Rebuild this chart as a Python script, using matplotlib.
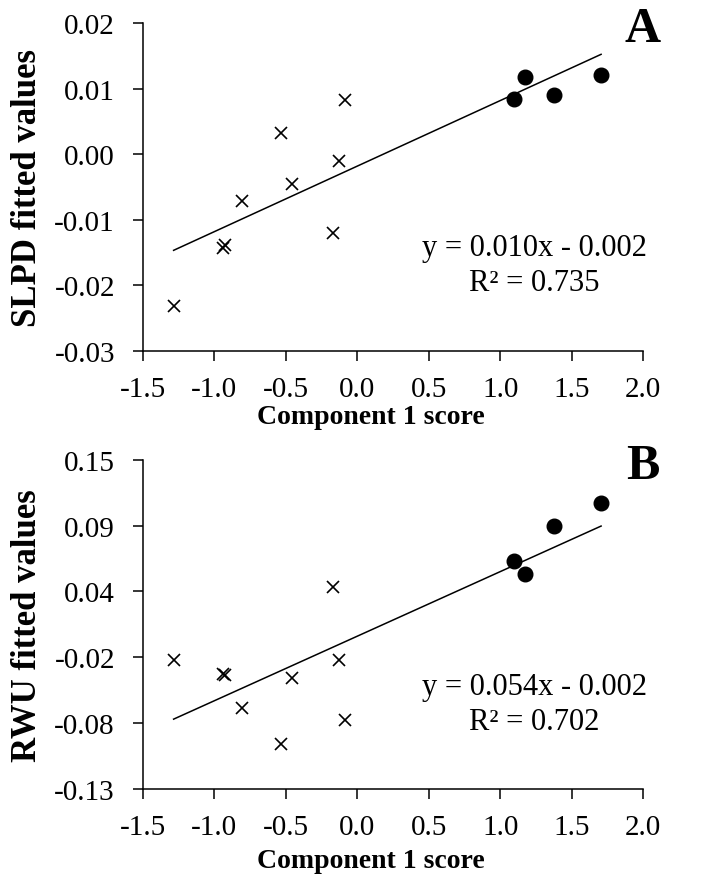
import numpy as np
import matplotlib
matplotlib.use("Agg")
import matplotlib.pyplot as plt

# DADOS
x_cruz = [-1.284, -0.942, -0.926, -0.808, -0.533, -0.454, -0.168, -0.131, -0.089]
x_circ = [1.098, 1.171, 1.373, 1.705]

slpd_cruz = [-0.0232, -0.0144, -0.0139, -0.0071, 0.0032, -0.0046, -0.0121, -0.0011, 0.0083]
slpd_circ = [0.0084, 0.0118, 0.0090, 0.0120]

rwu_cruz = [-0.0222, -0.0340, -0.0346, -0.0625, -0.0923, -0.0374, 0.0385, -0.0219, -0.0722]
rwu_circ = [0.0607, 0.0496, 0.0894, 0.1089]

x_ticks = [-1.5, -1.0, -0.5, 0.0, 0.5, 1.0, 1.5, 2.0]
slpd_ticks = [-0.03, -0.02, -0.01, 0.00, 0.01, 0.02]
rwu_ticks = [-0.13, -0.075, -0.02, 0.035, 0.09, 0.145]
rwu_labels = ["-0.13", "-0.08", "-0.02", "0.04", "0.09", "0.15"]

eq_a = "y = 0.010x - 0.002\nR² = 0.735"
eq_b = "y = 0.054x - 0.002\nR² = 0.702"

plt.rcParams['font.family'] = ['Liberation Serif', 'DejaVu Serif']

fig = plt.figure(figsize=(7.15, 8.78), dpi=100)


# FUNCAO PARA DESENHAR UM PAINEL
def painel(ax, y_cruz, y_circ, yticks, ylabels, ylabel, equacao, letra, letra_y, eq_y, xlab_y):
    ax.plot(x_cruz, y_cruz, linestyle='none', marker='x', color='black',
            markersize=8.5, markeredgewidth=1.2, clip_on=False)
    ax.plot(x_circ, y_circ, linestyle='none', marker='o', color='black',
            markersize=10.5, clip_on=False)

    # linha de tendencia
    xs = np.array(x_cruz + x_circ)
    ys = np.array(y_cruz + y_circ)
    a, b = np.polyfit(xs, ys, 1)
    xl = np.array([xs.min(), xs.max()])
    ax.plot(xl, a * xl + b, color='black', linewidth=1.1)

    ax.set_xlim(-1.5, 2.0)
    ax.set_ylim(yticks[0], yticks[-1])
    ax.set_xticks(x_ticks)
    ax.set_xticklabels([f"{v:.1f}" for v in x_ticks])
    ax.set_yticks(yticks)
    ax.set_yticklabels(ylabels)

    for s in ['top', 'right']:
        ax.spines[s].set_visible(False)
    for s in ['left', 'bottom']:
        ax.spines[s].set_linewidth(1.1)

    ax.tick_params(axis='both', direction='out', length=7, width=1.1, labelsize=21)
    ax.tick_params(axis='y', pad=13)
    ax.tick_params(axis='x', pad=11)

    ax.set_xlabel("Component 1 score", fontsize=20, fontweight='bold')
    ax.xaxis.set_label_coords(0.456, xlab_y)
    ax.set_ylabel(ylabel, fontsize=25, fontweight='bold')
    ax.yaxis.set_label_coords(-0.198, 0.5)

    ax.text(0.7817, eq_y, equacao, transform=ax.transAxes, ha='center', va='center',
            fontsize=22, linespacing=1.3)
    fig.text(0.899, letra_y, letra, fontsize=36, fontweight='bold', ha='center', va='center')


ax1 = fig.add_axes([0.1996, 0.5994, 0.7001, 0.3732])
painel(ax1, slpd_cruz, slpd_circ, slpd_ticks, [f"{v:.2f}" for v in slpd_ticks],
       "SLPD fitted values", eq_a, "A", 0.966, 0.262, -0.163)

ax2 = fig.add_axes([0.1996, 0.1002, 0.7001, 0.3750])
painel(ax2, rwu_cruz, rwu_circ, rwu_ticks, rwu_labels,
       "RWU fitted values", eq_b, "B", 0.468, 0.258, -0.179)

fig.savefig("out.png", dpi=100)
